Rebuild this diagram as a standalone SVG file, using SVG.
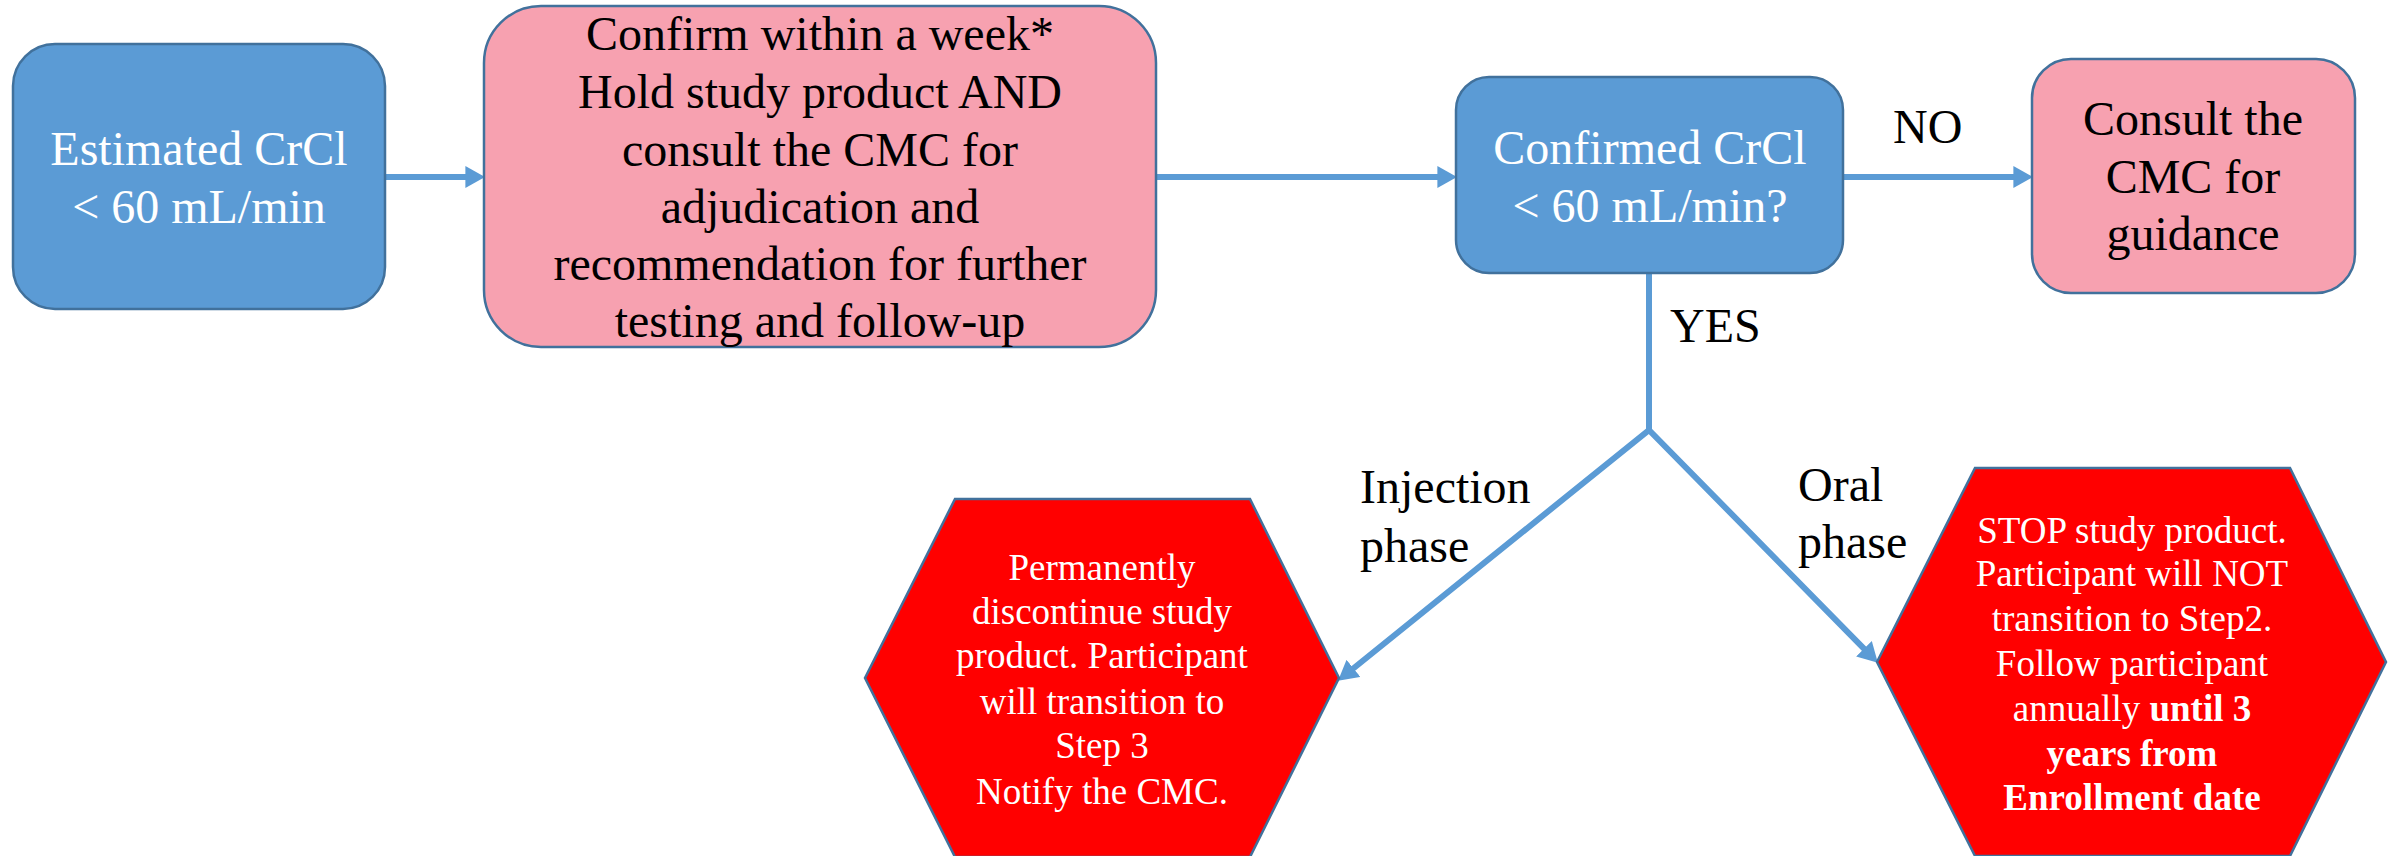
<svg xmlns="http://www.w3.org/2000/svg" width="2390" height="856" viewBox="0 0 2390 856">
  <defs>
    <style>
      .box-blue { fill: #5B9BD5; stroke: #41719C; stroke-width: 2.5; }
      .box-pink { fill: #F7A1B0; stroke: #41719C; stroke-width: 2.5; }
      .hex-red { fill: #FF0000; stroke: #41719C; stroke-width: 2.5; }
      .conn { fill: none; stroke: #5B9BD5; stroke-width: 6; stroke-linejoin: miter; }
      text { font-family: "Liberation Serif", "Times New Roman", serif; text-anchor: middle; }
      .t48 { font-size: 48px; }
      .t37 { font-size: 37px; }
      .white { fill: #FFFFFF; }
      .black { fill: #000000; }
      .label { font-size: 48px; fill: #000000; text-anchor: start; }
      .b { font-weight: bold; }
    </style>
    <marker id="arrow" markerUnits="userSpaceOnUse" markerWidth="20" markerHeight="22" viewBox="0 0 18 20" refX="6" refY="10" orient="auto">
      <path d="M0,0 L18,10 L0,20 Z" fill="#5B9BD5"/>
    </marker>
  </defs>

  <!-- connectors -->
  <g id="connectors">
    <line class="conn" x1="385" y1="177" x2="472" y2="177" marker-end="url(#arrow)"/>
    <line class="conn" x1="1156" y1="177" x2="1444" y2="177" marker-end="url(#arrow)"/>
    <line class="conn" x1="1843" y1="177" x2="2020" y2="177" marker-end="url(#arrow)"/>
    <polyline class="conn" points="1649,273 1649,430 1348.3,672.5" marker-end="url(#arrow)"/>
    <polyline class="conn" points="1649,273 1649,430 1868.6,653.4" marker-end="url(#arrow)"/>
    <text class="label" x="1893" y="143">NO</text>
    <text class="label" x="1670" y="342">YES</text>
    <text class="label" x="1360" y="503">Injection</text>
    <text class="label" x="1360" y="562">phase</text>
    <text class="label" x="1798" y="501">Oral</text>
    <text class="label" x="1798" y="558">phase</text>
  </g>

  <!-- estimated clearance -->
  <g id="node-estimated">
    <rect class="box-blue" x="13" y="44" width="372" height="265" rx="42" ry="42"/>
    <text class="t48 white" x="199" y="165">Estimated CrCl</text>
    <text class="t48 white" x="199" y="223">&lt; 60 mL/min</text>
  </g>

  <!-- confirm and hold -->
  <g id="node-confirm">
    <rect class="box-pink" x="484" y="6" width="672" height="341" rx="57" ry="57"/>
    <text class="t48 black" x="820" y="50">Confirm within a week*</text>
    <text class="t48 black" x="820" y="108">Hold study product AND</text>
    <text class="t48 black" x="820" y="166">consult the CMC for</text>
    <text class="t48 black" x="820" y="223">adjudication and</text>
    <text class="t48 black" x="820" y="280">recommendation for further</text>
    <text class="t48 black" x="820" y="337">testing and follow-up</text>
  </g>

  <!-- decision -->
  <g id="node-decision">
    <rect class="box-blue" x="1456" y="77" width="387" height="196" rx="33" ry="33"/>
    <text class="t48 white" x="1650" y="164">Confirmed CrCl</text>
    <text class="t48 white" x="1650" y="222">&lt; 60 mL/min?</text>
  </g>

  <!-- consult for guidance -->
  <g id="node-guidance">
    <rect class="box-pink" x="2032" y="59" width="323" height="234" rx="39" ry="39"/>
    <text class="t48 black" x="2193" y="135">Consult the</text>
    <text class="t48 black" x="2193" y="193">CMC for</text>
    <text class="t48 black" x="2193" y="250">guidance</text>
  </g>

  <!-- injection phase outcome -->
  <g id="node-injection">
    <polygon class="hex-red" points="955,499 1250,499 1339,678 1250,857 955,857 865,678"/>
    <text class="t37 white" x="1102" y="580">Permanently</text>
    <text class="t37 white" x="1102" y="624">discontinue study</text>
    <text class="t37 white" x="1102" y="668">product. Participant</text>
    <text class="t37 white" x="1102" y="714">will transition to</text>
    <text class="t37 white" x="1102" y="758">Step 3</text>
    <text class="t37 white" x="1102" y="804">Notify the CMC.</text>
  </g>

  <!-- oral phase outcome -->
  <g id="node-oral">
    <polygon class="hex-red" points="1975,468 2290,468 2386,662 2290,856 1975,856 1877,662"/>
    <text class="t37 white" x="2132" y="543">STOP study product.</text>
    <text class="t37 white" x="2132" y="586">Participant will NOT</text>
    <text class="t37 white" x="2132" y="631">transition to Step2.</text>
    <text class="t37 white" x="2132" y="676">Follow participant</text>
    <text class="t37 white" x="2132" y="721">annually <tspan class="b">until 3</tspan></text>
    <text class="t37 white b" x="2132" y="766">years from</text>
    <text class="t37 white b" x="2132" y="810">Enrollment date</text>
  </g>
</svg>
